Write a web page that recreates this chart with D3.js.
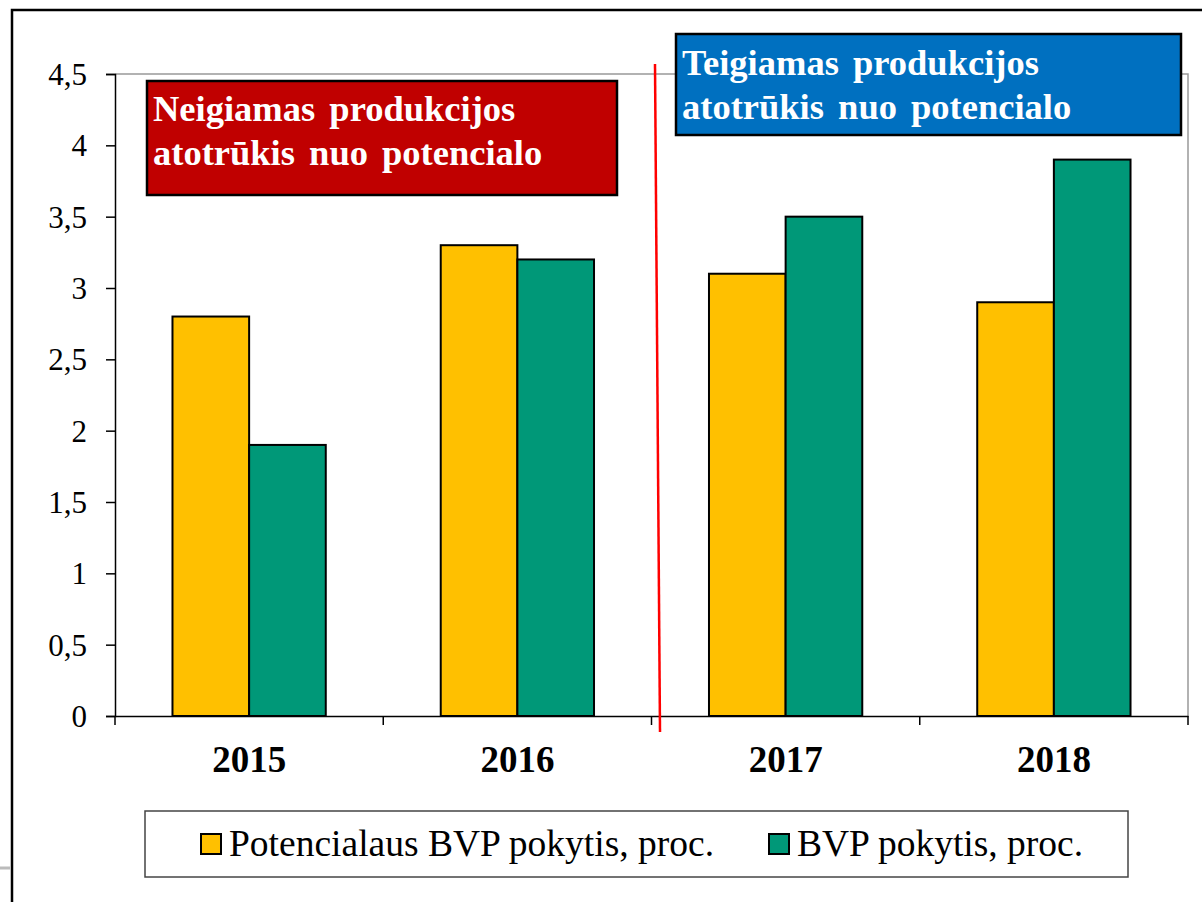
<!DOCTYPE html>
<html>
<head>
<meta charset="utf-8">
<script src="https://cdn.jsdelivr.net/npm/d3@7"></script>
<style>
  body { margin: 0; background: #fff; }
  svg { display: block; font-family: "Liberation Serif", "Times New Roman", serif; }
</style>
</head>
<body>
<div id="chart"></div>
<script>
// Data
const years = ["2015", "2016", "2017", "2018"];
const seriesNames = ["Potencialaus BVP pokytis, proc.", "BVP pokytis, proc."];
const potentialGdp = [2.8, 3.3, 3.1, 2.9];
const gdp = [1.9, 3.2, 3.5, 3.9];
const yTicks = [0, 0.5, 1, 1.5, 2, 2.5, 3, 3.5, 4, 4.5];
const yTickLabels = ["0", "0,5", "1", "1,5", "2", "2,5", "3", "3,5", "4", "4,5"];
const negativeLines = ["Neigiamas produkcijos", "atotrūkis nuo potencialo"];
const positiveLines = ["Teigiamas produkcijos", "atotrūkis nuo potencialo"];

const colors = ["#FFC000", "#009878"];

const width = 1202, height = 902;
const plot = {left: 115, top: 74, right: 1188, bottom: 716};

const svg = d3.select("#chart").append("svg")
    .attr("width", width)
    .attr("height", height)
    .attr("viewBox", [0, 0, width, height]);

// Outer frame (only left and top edges are visible)
svg.append("path")
    .attr("d", "M12,902 V10 H1202")
    .attr("fill", "none")
    .attr("stroke", "#000")
    .attr("stroke-width", 2.5);
svg.append("line")
    .attr("x1", 0).attr("x2", 10).attr("y1", 868).attr("y2", 868)
    .attr("stroke", "#bbb").attr("stroke-width", 3);

// Scales
const x = d3.scaleBand().domain(years).range([plot.left, plot.right]);
const x1 = d3.scaleBand().domain([0, 1]).range([0, x.bandwidth()]).paddingOuter(0.75);
const y = d3.scaleLinear().domain([0, 4.5]).range([plot.bottom, plot.top]);

// Plot area border (top + right, grey)
svg.append("path")
    .attr("d", `M${plot.left},${plot.top} H${plot.right} V${plot.bottom}`)
    .attr("fill", "none")
    .attr("stroke", "#999")
    .attr("stroke-width", 1.5);

// Bars
const rows = years.map((yr, i) => ({year: yr, values: [potentialGdp[i], gdp[i]]}));
svg.append("g")
  .selectAll("g")
  .data(rows)
  .join("g")
    .attr("transform", d => `translate(${x(d.year)},0)`)
  .selectAll("rect")
  .data(d => d.values.map((v, k) => ({k, v})))
  .join("rect")
    .attr("x", d => x1(d.k))
    .attr("y", d => y(d.v))
    .attr("width", x1.bandwidth())
    .attr("height", d => y(0) - y(d.v))
    .attr("fill", d => colors[d.k])
    .attr("stroke", "#000")
    .attr("stroke-width", 2);

// Y axis
const yAxis = svg.append("g")
    .attr("transform", `translate(${plot.left},0)`)
    .call(d3.axisLeft(y)
        .tickValues(yTicks)
        .tickSize(9)
        .tickPadding(19)
        .tickFormat((d, i) => yTickLabels[i]));
yAxis.attr("font-family", null).attr("font-size", null);
yAxis.select(".domain").attr("stroke", "#000").attr("stroke-width", 1.5);
yAxis.selectAll(".tick line").attr("stroke", "#000").attr("stroke-width", 1.5);
yAxis.selectAll(".tick text")
    .attr("font-size", 31)
    .attr("dy", "0.34em")
    .attr("fill", "#000");

// X axis: labels centered, ticks at category boundaries
const xAxis = svg.append("g")
    .attr("transform", `translate(0,${plot.bottom})`)
    .call(d3.axisBottom(x).tickSize(0).tickSizeOuter(0));
xAxis.attr("font-family", null).attr("font-size", null);
xAxis.select(".domain").attr("stroke", "#000").attr("stroke-width", 1.5);
xAxis.selectAll(".tick text")
    .attr("y", 56)
    .attr("dy", 0)
    .attr("font-size", 37)
    .attr("font-weight", "bold")
    .attr("fill", "#000");
const bounds = years.map(d => x(d)).concat([x(years[years.length - 1]) + x.bandwidth()]);
xAxis.append("g")
  .selectAll("line")
  .data(bounds)
  .join("line")
    .attr("x1", d => d).attr("x2", d => d)
    .attr("y1", 0).attr("y2", 9)
    .attr("stroke", "#000")
    .attr("stroke-width", 1.5);

// Annotation boxes
function annotation(x0, y0, w, h, fill, lines, baseline0) {
  const g = svg.append("g");
  g.append("rect")
      .attr("x", x0).attr("y", y0)
      .attr("width", w).attr("height", h)
      .attr("fill", fill)
      .attr("stroke", "#000")
      .attr("stroke-width", 2.5);
  g.selectAll("text")
    .data(lines)
    .join("text")
      .attr("x", x0 + 6)
      .attr("y", (d, i) => baseline0 + i * 44)
      .attr("fill", "#fff")
      .attr("font-weight", "bold")
      .attr("font-size", 36.5)
      .attr("word-spacing", 5)
      .text(d => d);
}
annotation(147, 81, 470, 114, "#C00000", negativeLines, 121);
annotation(676, 34, 505, 101, "#0070C0", positiveLines, 75);

// Red divider line
svg.append("line")
    .attr("x1", 655).attr("y1", 64)
    .attr("x2", 660).attr("y2", 732)
    .attr("stroke", "#FF0000")
    .attr("stroke-width", 2.5);

// Legend
const legend = svg.append("g");
legend.append("rect")
    .attr("x", 145).attr("y", 811)
    .attr("width", 983).attr("height", 66)
    .attr("fill", "#fff")
    .attr("stroke", "#444")
    .attr("stroke-width", 1.5);
const legendX = [201, 769];
seriesNames.forEach((name, i) => {
  legend.append("rect")
      .attr("x", legendX[i]).attr("y", 834)
      .attr("width", 20).attr("height", 20)
      .attr("fill", colors[i])
      .attr("stroke", "#000")
      .attr("stroke-width", 2);
  legend.append("text")
      .attr("x", legendX[i] + 28)
      .attr("y", 856)
      .attr("font-size", 37.5)
      .attr("fill", "#000")
      .text(name);
});
</script>
</body>
</html>
